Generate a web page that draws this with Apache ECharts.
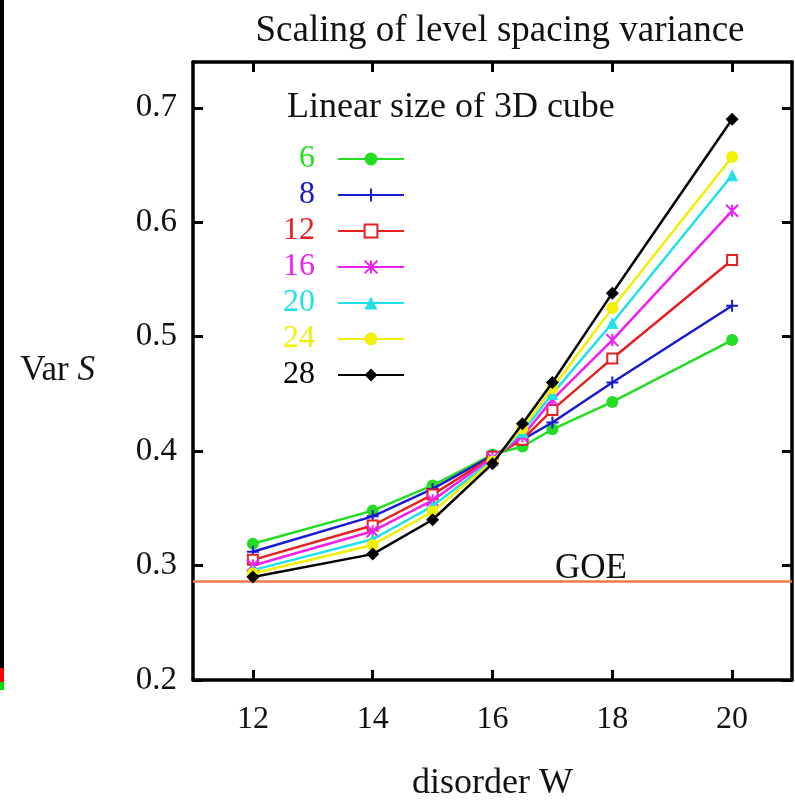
<!DOCTYPE html>
<html>
<head>
<meta charset="utf-8">
<script src="https://cdn.jsdelivr.net/npm/echarts@6/dist/echarts.min.js"></script>
<style>
  html, body { margin: 0; padding: 0; background: #fff; }
  #chart { width: 795px; height: 807px; }
</style>
</head>
<body>
<div id="chart"></div>
<script>
// disorder W values
var wValues = [12, 14, 15, 16, 16.5, 17, 18, 20]
// Var S for each linear size L
var sizes = ['6', '8', '12', '16', '20', '24', '28']
var varL6 = [0.319, 0.348, 0.370, 0.397, 0.404, 0.419, 0.443, 0.497]
var varL8 = [0.312, 0.343, 0.367, 0.396, 0.410, 0.425, 0.460, 0.527]
var varL12 = [0.305, 0.335, 0.362, 0.395, 0.410, 0.436, 0.481, 0.567]
var varL16 = [0.300, 0.330, 0.357, 0.394, 0.413, 0.445, 0.497, 0.610]
var varL20 = [0.296, 0.323, 0.352, 0.392, 0.417, 0.450, 0.512, 0.641]
var varL24 = [0.293, 0.318, 0.347, 0.391, 0.420, 0.455, 0.525, 0.657]
var varL28 = [0.290, 0.310, 0.340, 0.389, 0.424, 0.460, 0.538, 0.690]
var goeValue = 0.286
var xTicks = [12, 14, 16, 18, 20]
var yTicks = [0.2, 0.3, 0.4, 0.5, 0.6, 0.7]

var font = 'Liberation Serif'
var colors = ['#22dd22', '#1a1ad0', '#e82020', '#f020f0', '#20e0e8', '#f0f000', '#000000']
var symbols = [
  'circle',
  'path://M5,0L5,10M0,5L10,5',
  'emptyRect',
  'path://M0,0L10,10M10,0L0,10M5,0L5,10',
  'triangle',
  'circle',
  'diamond'
]
var seriesValues = [varL6, varL8, varL12, varL16, varL20, varL24, varL28]

var chart = echarts.init(document.getElementById('chart'))

var series = []
for (var i = 0; i < sizes.length; i++) {
  var pts = []
  for (var j = 0; j < wValues.length; j++) {
    pts.push([wValues[j], seriesValues[i][j]])
  }
  var isPath = symbols[i].indexOf('path://') === 0
  var isEmpty = symbols[i] === 'emptyRect'
  series.push({
    name: sizes[i],
    type: 'line',
    data: pts,
    symbol: symbols[i],
    symbolSize: isEmpty ? 10 : (symbols[i] === 'diamond' ? 13 : 12),
    lineStyle: { color: colors[i], width: 2.5 },
    itemStyle: {
      color: colors[i],
      borderColor: colors[i],
      borderWidth: (isPath || isEmpty) ? 2 : 0
    },
    animation: false,
    z: 3 + i
  })
}

// GOE reference line
series.push({
  name: 'GOE',
  type: 'line',
  data: [[11, goeValue], [21, goeValue]],
  symbol: 'none',
  lineStyle: { color: '#f07a4a', width: 2.5 },
  animation: false,
  z: 2
})

var legendData = sizes.map(function (s, i) {
  return { name: s, textStyle: { color: colors[i] } }
})

var tickStyle = { show: true, inside: true, length: 10, lineStyle: { color: '#000', width: 3 } }
var lineStyle = { show: true, onZero: false, lineStyle: { color: '#000', width: 3.5 } }

chart.setOption({
  backgroundColor: '#fff',
  title: {
    text: 'Scaling of level spacing variance',
    left: 495,
    top: 8,
    textAlign: 'center',
    textStyle: { fontFamily: font, fontSize: 37, fontWeight: 'normal', color: '#111' }
  },
  grid: { left: 193, right: 3, top: 62, bottom: 125 },
  legend: {
    data: legendData,
    orient: 'vertical',
    left: 278,
    top: 138,
    align: 'right',
    itemWidth: 66,
    itemHeight: 16,
    itemGap: 4,
    selectedMode: false,
    textStyle: { fontFamily: font, fontSize: 32, padding: [0, 18, 0, 0] }
  },
  xAxis: [{
    type: 'value',
    min: 11,
    max: 21,
    position: 'bottom',
    axisLine: lineStyle,
    axisTick: Object.assign({ customValues: xTicks }, tickStyle),
    axisLabel: { customValues: xTicks, margin: 24, fontFamily: font, fontSize: 32, color: '#111' },
    splitLine: { show: false },
    name: 'disorder W',
    nameLocation: 'middle',
    nameGap: 86,
    nameTextStyle: { fontFamily: font, fontSize: 36, color: '#111' }
  }, {
    type: 'value',
    min: 11,
    max: 21,
    position: 'top',
    axisLine: lineStyle,
    axisTick: Object.assign({ customValues: xTicks }, tickStyle),
    axisLabel: { show: false },
    splitLine: { show: false }
  }],
  yAxis: [{
    type: 'value',
    min: 0.2,
    max: 0.74,
    position: 'left',
    axisLine: lineStyle,
    axisTick: Object.assign({ customValues: yTicks }, tickStyle),
    axisLabel: {
      customValues: yTicks, margin: 16, fontFamily: font, fontSize: 33, color: '#111',
      formatter: function (v) { return v.toFixed(1) }
    },
    splitLine: { show: false },
    name: 'Var {i|S}',
    nameLocation: 'middle',
    nameRotate: 0,
    nameGap: 98,
    nameTextStyle: {
      fontFamily: font, fontSize: 35, color: '#111', align: 'right',
      rich: { i: { fontFamily: font, fontSize: 35, fontStyle: 'italic', color: '#111' } }
    }
  }, {
    type: 'value',
    min: 0.2,
    max: 0.74,
    position: 'right',
    axisLine: lineStyle,
    axisTick: Object.assign({ customValues: yTicks }, tickStyle),
    axisLabel: { show: false },
    splitLine: { show: false }
  }],
  graphic: [
    {
      type: 'text', left: 555, top: 90,
      style: { text: 'Linear size of 3D cube', font: '36px "Liberation Serif"', fill: '#111' },
      left: 287
    },
    {
      type: 'text', left: 555, top: 551,
      style: { text: 'GOE', font: '35px "Liberation Serif"', fill: '#111' }
    },
    { type: 'rect', left: 0, top: 0, shape: { width: 4, height: 668 }, style: { fill: '#000' } },
    { type: 'rect', left: 0, top: 668, shape: { width: 4, height: 14 }, style: { fill: '#f00' } },
    { type: 'rect', left: 0, top: 682, shape: { width: 4, height: 8 }, style: { fill: '#0d0' } }
  ],
  series: series
})
</script>
</body>
</html>
